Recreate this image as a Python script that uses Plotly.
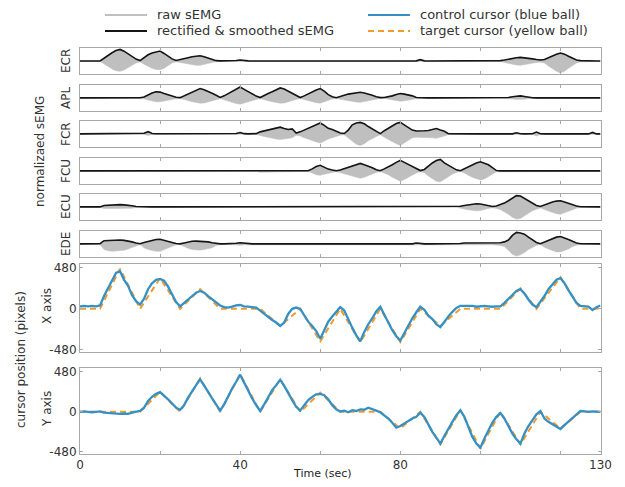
import plotly.graph_objects as go

# ---------------- data ----------------
time_s = list(range(131))  # 0..130 s, 1 s steps

channels = ["ECR", "APL", "FCR", "FCU", "ECU", "EDE"]

ECR_env = [0.02,0.02,0.02,0.02,0.02,0.03,0.25,0.5,0.72,0.9,
           1.0,0.85,0.65,0.42,0.18,0.06,0.3,0.55,0.7,0.8,
           0.86,0.66,0.42,0.2,0.06,0.12,0.22,0.3,0.38,0.44,
           0.46,0.38,0.26,0.13,0.05,0.03,0.03,0.03,0.04,0.06,
           0.1,0.05,0.03,0.02,0.02,0.02,0.02,0.02,0.02,0.02,
           0.02,0.02,0.02,0.02,0.02,0.02,0.02,0.02,0.02,0.02,
           0.02,0.02,0.02,0.02,0.02,0.02,0.02,0.02,0.02,0.02,
           0.02,0.02,0.02,0.02,0.02,0.02,0.02,0.02,0.02,0.02,
           0.02,0.02,0.02,0.02,0.03,0.13,0.03,0.02,0.02,0.02,
           0.02,0.02,0.02,0.02,0.03,0.08,0.03,0.02,0.02,0.02,
           0.02,0.02,0.02,0.02,0.03,0.05,0.1,0.18,0.26,0.3,
           0.33,0.3,0.26,0.2,0.14,0.1,0.14,0.3,0.45,0.6,
           0.7,0.6,0.42,0.25,0.1,0.05,0.03,0.02,0.02,0.02,
           0.02]
ECR_raw = [0.01,0.01,0.01,0.01,0.01,0.01,0.2,0.45,0.65,0.8,
           0.85,0.75,0.55,0.35,0.15,0.05,0.25,0.45,0.6,0.7,
           0.72,0.6,0.35,0.15,0.05,0.1,0.18,0.25,0.3,0.35,
           0.35,0.3,0.2,0.1,0.03,0.01,0.01,0.01,0.02,0.04,
           0.05,0.02,0.01,0.01,0.01,0.01,0.01,0.01,0.01,0.01,
           0.01,0.01,0.01,0.01,0.01,0.01,0.01,0.01,0.01,0.01,
           0.01,0.01,0.01,0.01,0.01,0.01,0.01,0.01,0.01,0.01,
           0.01,0.01,0.01,0.01,0.01,0.01,0.01,0.01,0.01,0.01,
           0.01,0.01,0.01,0.01,0.01,0.03,0.01,0.01,0.01,0.01,
           0.01,0.01,0.01,0.01,0.01,0.02,0.01,0.01,0.01,0.01,
           0.01,0.01,0.01,0.01,0.01,0.03,0.08,0.15,0.25,0.32,
           0.35,0.3,0.22,0.15,0.1,0.08,0.15,0.4,0.65,0.85,
           1.0,0.85,0.6,0.35,0.15,0.05,0.02,0.01,0.01,0.01,
           0.01]

APL_env = [0.03,0.03,0.03,0.03,0.03,0.03,0.03,0.03,0.03,0.03,
           0.03,0.03,0.03,0.03,0.03,0.04,0.1,0.3,0.45,0.55,
           0.52,0.4,0.3,0.18,0.08,0.05,0.2,0.36,0.52,0.68,
           0.82,0.72,0.6,0.42,0.25,0.07,0.2,0.4,0.62,0.8,
           0.95,0.75,0.55,0.35,0.18,0.06,0.2,0.4,0.55,0.7,
           0.87,0.78,0.6,0.4,0.2,0.06,0.2,0.38,0.55,0.7,
           0.82,0.6,0.3,0.12,0.04,0.12,0.25,0.35,0.42,0.48,
           0.5,0.45,0.38,0.25,0.12,0.05,0.06,0.1,0.2,0.32,
           0.4,0.35,0.3,0.2,0.06,0.03,0.03,0.03,0.03,0.03,
           0.03,0.03,0.03,0.03,0.03,0.03,0.03,0.03,0.03,0.03,
           0.03,0.03,0.03,0.03,0.03,0.03,0.03,0.06,0.12,0.18,
           0.2,0.15,0.08,0.04,0.03,0.03,0.03,0.03,0.03,0.03,
           0.03,0.03,0.03,0.03,0.03,0.03,0.03,0.03,0.03,0.03,
           0.03]
APL_raw = [0.01,0.01,0.01,0.01,0.01,0.01,0.01,0.01,0.01,0.01,
           0.01,0.01,0.01,0.01,0.01,0.01,0.05,0.15,0.25,0.3,
           0.3,0.25,0.18,0.1,0.04,0.02,0.1,0.2,0.3,0.38,
           0.42,0.4,0.32,0.22,0.12,0.03,0.12,0.25,0.35,0.45,
           0.5,0.45,0.32,0.2,0.1,0.03,0.1,0.22,0.3,0.38,
           0.42,0.4,0.32,0.2,0.1,0.03,0.1,0.2,0.3,0.38,
           0.42,0.32,0.18,0.06,0.02,0.08,0.15,0.22,0.28,0.32,
           0.35,0.3,0.22,0.14,0.06,0.02,0.02,0.05,0.12,0.2,
           0.25,0.22,0.18,0.1,0.03,0.01,0.01,0.01,0.01,0.01,
           0.01,0.01,0.01,0.01,0.01,0.01,0.01,0.01,0.01,0.01,
           0.01,0.01,0.01,0.01,0.01,0.01,0.01,0.03,0.06,0.1,
           0.12,0.08,0.03,0.01,0.01,0.01,0.01,0.01,0.01,0.01,
           0.01,0.01,0.01,0.01,0.01,0.01,0.01,0.01,0.01,0.01,
           0.01]

FCR_env = [0.03,0.03,0.03,0.03,0.03,0.03,0.03,0.03,0.03,0.03,
           0.03,0.03,0.03,0.03,0.03,0.03,0.08,0.22,0.06,0.04,
           0.04,0.04,0.04,0.03,0.03,0.03,0.03,0.03,0.03,0.03,
           0.03,0.03,0.03,0.03,0.03,0.03,0.03,0.03,0.03,0.06,
           0.15,0.05,0.03,0.03,0.05,0.2,0.28,0.35,0.42,0.5,
           0.6,0.48,0.4,0.45,0.1,0.2,0.35,0.45,0.6,0.75,
           0.95,0.75,0.5,0.4,0.28,0.1,0.06,0.35,0.8,0.95,
           1.0,0.88,0.65,0.45,0.25,0.05,0.3,0.5,0.7,0.9,
           1.0,0.8,0.55,0.35,0.28,0.27,0.3,0.32,0.4,0.48,
           0.35,0.25,0.04,0.03,0.03,0.03,0.03,0.03,0.03,0.03,
           0.03,0.03,0.03,0.03,0.03,0.03,0.03,0.03,0.03,0.12,
           0.04,0.03,0.03,0.04,0.18,0.04,0.03,0.03,0.03,0.03,
           0.03,0.03,0.03,0.03,0.03,0.03,0.03,0.03,0.15,0.03,
           0.03]
FCR_raw = [0.01,0.01,0.01,0.01,0.01,0.01,0.01,0.01,0.01,0.01,
           0.01,0.01,0.01,0.01,0.01,0.01,0.02,0.1,0.02,0.01,
           0.01,0.01,0.01,0.01,0.01,0.01,0.01,0.01,0.01,0.01,
           0.01,0.01,0.01,0.01,0.01,0.01,0.01,0.01,0.01,0.02,
           0.05,0.02,0.01,0.01,0.02,0.1,0.2,0.3,0.35,0.4,
           0.45,0.4,0.35,0.3,0.08,0.15,0.3,0.4,0.55,0.65,
           0.75,0.6,0.4,0.3,0.2,0.08,0.05,0.3,0.6,0.85,
           0.95,0.8,0.55,0.35,0.2,0.04,0.25,0.45,0.65,0.8,
           0.95,0.75,0.5,0.3,0.25,0.22,0.25,0.28,0.3,0.35,
           0.28,0.15,0.02,0.01,0.01,0.01,0.01,0.01,0.01,0.01,
           0.01,0.01,0.01,0.01,0.01,0.01,0.01,0.01,0.01,0.03,
           0.01,0.01,0.01,0.02,0.15,0.02,0.01,0.01,0.01,0.01,
           0.01,0.01,0.01,0.01,0.01,0.01,0.01,0.01,0.04,0.01,
           0.01]

FCU_env = [0.03,0.03,0.03,0.03,0.03,0.03,0.03,0.03,0.03,0.03,
           0.03,0.03,0.03,0.03,0.03,0.03,0.03,0.03,0.03,0.03,
           0.03,0.03,0.03,0.03,0.03,0.03,0.03,0.03,0.03,0.03,
           0.03,0.03,0.03,0.03,0.03,0.03,0.03,0.03,0.03,0.03,
           0.03,0.03,0.03,0.03,0.03,0.05,0.05,0.05,0.05,0.05,
           0.05,0.05,0.05,0.05,0.04,0.04,0.04,0.04,0.2,0.4,
           0.5,0.35,0.18,0.1,0.04,0.1,0.22,0.35,0.45,0.58,
           0.66,0.55,0.45,0.3,0.12,0.04,0.2,0.35,0.55,0.75,
           0.92,0.75,0.58,0.4,0.2,0.06,0.15,0.45,0.7,0.9,
           1.0,0.7,0.5,0.3,0.12,0.04,0.2,0.4,0.55,0.7,
           0.8,0.7,0.55,0.3,0.06,0.03,0.03,0.03,0.03,0.03,
           0.03,0.03,0.06,0.03,0.03,0.03,0.03,0.03,0.03,0.03,
           0.03,0.03,0.03,0.03,0.03,0.03,0.03,0.03,0.03,0.03,
           0.03]
FCU_raw = [0.01,0.01,0.01,0.01,0.01,0.01,0.01,0.01,0.01,0.01,
           0.01,0.01,0.01,0.01,0.01,0.01,0.01,0.01,0.01,0.01,
           0.01,0.01,0.01,0.01,0.01,0.01,0.01,0.01,0.01,0.01,
           0.01,0.01,0.01,0.01,0.01,0.01,0.01,0.01,0.01,0.01,
           0.01,0.01,0.01,0.01,0.01,0.08,0.08,0.08,0.08,0.08,
           0.08,0.08,0.08,0.08,0.02,0.02,0.02,0.02,0.15,0.3,
           0.35,0.25,0.15,0.1,0.03,0.1,0.2,0.3,0.4,0.5,
           0.6,0.5,0.4,0.25,0.1,0.03,0.15,0.3,0.5,0.7,
           0.85,0.7,0.5,0.35,0.15,0.05,0.12,0.4,0.65,0.85,
           0.9,0.65,0.45,0.25,0.1,0.03,0.15,0.35,0.5,0.65,
           0.75,0.65,0.45,0.25,0.05,0.01,0.01,0.01,0.01,0.01,
           0.01,0.01,0.02,0.01,0.01,0.01,0.01,0.01,0.01,0.01,
           0.01,0.01,0.01,0.01,0.01,0.01,0.01,0.01,0.01,0.01,
           0.01]

ECU_env = [0.03,0.03,0.03,0.03,0.03,0.03,0.15,0.18,0.2,0.22,
           0.22,0.2,0.18,0.12,0.06,0.04,0.03,0.03,0.03,0.03,
           0.03,0.03,0.03,0.03,0.03,0.03,0.03,0.03,0.03,0.03,
           0.03,0.03,0.03,0.03,0.03,0.03,0.03,0.03,0.03,0.03,
           0.03,0.03,0.03,0.03,0.03,0.03,0.03,0.03,0.03,0.03,
           0.03,0.03,0.03,0.03,0.03,0.03,0.03,0.03,0.03,0.03,
           0.03,0.03,0.03,0.03,0.03,0.03,0.03,0.03,0.03,0.03,
           0.03,0.03,0.03,0.03,0.03,0.03,0.03,0.03,0.03,0.03,
           0.03,0.03,0.03,0.03,0.03,0.03,0.03,0.03,0.03,0.03,
           0.03,0.03,0.03,0.03,0.03,0.08,0.15,0.22,0.28,0.3,
           0.28,0.2,0.1,0.06,0.1,0.2,0.35,0.55,0.8,0.98,
           0.95,0.75,0.55,0.35,0.15,0.06,0.2,0.32,0.45,0.52,
           0.55,0.45,0.32,0.2,0.1,0.04,0.03,0.03,0.03,0.03,
           0.03]
ECU_raw = [0.01,0.01,0.01,0.01,0.01,0.01,0.1,0.1,0.1,0.1,
           0.1,0.1,0.1,0.08,0.03,0.01,0.01,0.01,0.01,0.01,
           0.01,0.01,0.01,0.01,0.01,0.01,0.01,0.01,0.01,0.01,
           0.01,0.01,0.01,0.01,0.01,0.01,0.01,0.01,0.01,0.01,
           0.01,0.01,0.01,0.01,0.01,0.01,0.01,0.01,0.01,0.01,
           0.01,0.01,0.01,0.01,0.01,0.01,0.01,0.01,0.01,0.01,
           0.01,0.01,0.01,0.01,0.01,0.01,0.01,0.01,0.01,0.01,
           0.01,0.01,0.01,0.01,0.01,0.01,0.01,0.01,0.01,0.01,
           0.01,0.01,0.01,0.01,0.01,0.01,0.01,0.01,0.01,0.01,
           0.01,0.01,0.01,0.01,0.01,0.08,0.15,0.22,0.28,0.3,
           0.28,0.2,0.1,0.05,0.1,0.2,0.4,0.6,0.85,1.0,
           0.95,0.75,0.5,0.3,0.15,0.05,0.2,0.35,0.45,0.55,
           0.6,0.5,0.35,0.2,0.08,0.02,0.01,0.01,0.01,0.01,
           0.01]

EDE_env = [0.03,0.03,0.03,0.03,0.03,0.05,0.3,0.33,0.36,0.38,
           0.36,0.33,0.28,0.2,0.1,0.04,0.15,0.25,0.33,0.4,
           0.42,0.35,0.25,0.15,0.06,0.03,0.1,0.2,0.25,0.26,
           0.25,0.23,0.2,0.12,0.05,0.03,0.03,0.03,0.03,0.08,
           0.12,0.08,0.04,0.03,0.03,0.03,0.03,0.03,0.03,0.03,
           0.03,0.03,0.03,0.03,0.03,0.03,0.03,0.03,0.03,0.03,
           0.03,0.03,0.03,0.03,0.03,0.03,0.03,0.03,0.03,0.03,
           0.03,0.03,0.03,0.03,0.03,0.03,0.03,0.03,0.03,0.03,
           0.03,0.03,0.03,0.03,0.1,0.04,0.03,0.03,0.03,0.03,
           0.03,0.03,0.03,0.03,0.03,0.06,0.1,0.1,0.1,0.1,
           0.1,0.1,0.1,0.1,0.1,0.12,0.2,0.35,0.75,1.0,
           0.95,0.85,0.6,0.35,0.15,0.05,0.2,0.35,0.5,0.6,
           0.65,0.55,0.4,0.25,0.1,0.04,0.03,0.03,0.03,0.03,
           0.03]
EDE_raw = [0.01,0.01,0.01,0.01,0.01,0.02,0.45,0.55,0.6,0.6,
           0.55,0.5,0.4,0.3,0.15,0.03,0.3,0.45,0.55,0.6,
           0.6,0.5,0.35,0.2,0.05,0.03,0.2,0.35,0.45,0.5,
           0.5,0.45,0.4,0.3,0.1,0.02,0.01,0.01,0.01,0.05,
           0.08,0.05,0.01,0.01,0.01,0.01,0.01,0.01,0.01,0.01,
           0.01,0.01,0.01,0.01,0.01,0.01,0.01,0.01,0.01,0.01,
           0.01,0.01,0.01,0.01,0.01,0.01,0.01,0.01,0.01,0.01,
           0.01,0.01,0.01,0.01,0.01,0.01,0.01,0.01,0.01,0.01,
           0.01,0.01,0.01,0.01,0.03,0.01,0.01,0.01,0.01,0.01,
           0.01,0.01,0.01,0.01,0.01,0.02,0.05,0.05,0.05,0.05,
           0.05,0.05,0.05,0.05,0.05,0.1,0.2,0.5,0.85,1.0,
           0.9,0.7,0.45,0.25,0.1,0.03,0.25,0.4,0.55,0.65,
           0.65,0.55,0.4,0.2,0.08,0.02,0.01,0.01,0.01,0.01,
           0.01]

emg_env = [ECR_env, APL_env, FCR_env, FCU_env, ECU_env, EDE_env]
emg_raw = [ECR_raw, APL_raw, FCR_raw, FCU_raw, ECU_raw, EDE_raw]

# cursor X (pixels), 1 s steps
ctrl_x = [30,35,30,35,30,40,150,240,330,420,
          440,340,270,160,90,50,120,230,300,340,
          350,330,260,170,80,30,70,120,160,190,
          210,190,150,110,70,40,20,15,25,40,
          45,30,25,20,15,-20,-60,-100,-130,-160,
          -200,-160,-60,0,15,0,-70,-150,-200,-260,
          -350,-250,-150,-90,-40,20,-20,-130,-220,-310,
          -380,-270,-180,-110,-30,25,-60,-160,-250,-320,
          -370,-280,-190,-110,-40,25,-10,-80,-120,-180,
          -215,-150,-90,-35,10,35,35,30,35,25,
          30,35,30,25,30,30,70,120,170,210,
          230,180,110,50,20,80,150,230,290,340,
          360,300,220,140,70,35,30,25,-15,20,
          40]
# target X: vertices of the piecewise-linear target path
tgt_x_t = [0,5,10,15,20,25,30,35,45,50,55,60,65,70,75,80,85,90,95,105,110,114,120,125,130]
tgt_x_v = [0,0,470,0,360,0,230,0,0,-200,0,-380,0,-390,0,-390,0,-200,0,0,240,0,370,0,0]

# cursor Y (pixels), 1 s steps
ctrl_y = [0,5,0,-5,0,5,-10,-15,-20,-20,
          -25,-20,-25,-10,0,10,50,130,180,215,
          235,195,150,100,50,25,80,170,250,320,
          390,320,240,160,80,15,90,190,280,360,
          445,350,250,160,80,10,90,170,260,320,
          385,310,220,140,60,15,80,140,180,210,
          215,200,150,80,30,5,15,-5,20,10,
          30,25,50,35,15,-5,-40,-80,-130,-190,
          -170,-140,-100,-80,-60,-10,-60,-150,-240,-310,
          -380,-290,-200,-120,-40,20,-60,-180,-300,-380,
          -430,-320,-220,-130,-60,-15,-80,-180,-260,-330,
          -380,-260,-170,-100,-30,10,-80,-120,-150,-180,
          -205,-160,-120,-70,-30,10,5,0,5,0,
          0]
tgt_y_t = [0,15,20,25,30,35,40,45,50,55,60,65,75,80,85,90,95,100,105,110,115,120,125,130]
tgt_y_v = [0,0,240,0,400,0,450,0,390,0,230,0,0,-200,0,-390,20,-440,0,-390,0,-200,0,0]

time_ticks = [0, 20, 40, 60, 80, 100, 120, 130]
time_labels = ["0", "", "40", "", "80", "", "", "130"]
cursor_ticks = [-480, 0, 480]
cursor_labels = ["-480", "0", "480"]

# ---------------- figure ----------------
# The page body has an 8 px margin, so the figure is 16 px smaller than the
# window and all screen positions are converted with that offset.
OFF = 8
W, H = 625 - 2 * OFF, 487 - 2 * OFF
FONT = "DejaVu Sans, Noto Sans, sans-serif"
TXT = "#333333"
BOX = "#a8a8a8"
FS = 12

def px(x):
    return (x - OFF) / W

def py(y):
    return 1 - (y - OFF) / H

def ydom(top_px, bot_px):
    return [py(bot_px), py(top_px)]

emg_boxes = [(48, 74), (85, 111), (121, 147), (158, 184), (194, 220), (231, 257)]
x_box = (264, 352)
y_box = (368, 454)
x_dom = [px(80), px(600.5)]

fig = go.Figure()
layout = dict(width=W, height=H, margin=dict(l=0, r=0, t=0, b=0, autoexpand=False),
              paper_bgcolor="white", plot_bgcolor="white",
              font=dict(family=FONT, size=FS, color=TXT), showlegend=False)

def xax(idx, show_labels):
    return dict(domain=x_dom, range=[0, 130], anchor="y" + ("" if idx == 1 else str(idx)),
                tickvals=time_ticks, ticktext=time_labels, showticklabels=show_labels,
                ticks="inside", ticklen=3, tickcolor=BOX, showline=True, linecolor=BOX,
                linewidth=1, mirror="ticks", showgrid=False, zeroline=False,
                automargin=False, tickfont=dict(size=FS, color=TXT))

def label(text, x, y, angle=-90, size=FS, color=TXT, xanchor="center"):
    return dict(text=text, x=px(x), y=py(y), xref="paper", yref="paper",
                textangle=angle, showarrow=False, xanchor=xanchor, yanchor="middle",
                borderpad=0, font=dict(size=size, color=color))

annotations = []
for i, name in enumerate(channels):
    idx = i + 1
    xs = "x" + ("" if idx == 1 else str(idx))
    ys = "y" + ("" if idx == 1 else str(idx))
    env = emg_env[i]
    raw = emg_raw[i]
    fig.add_trace(go.Scatter(
        x=time_s + time_s[::-1],
        y=env + [-r for r in raw][::-1],
        fill="toself", fillcolor="#bfbfbf", mode="lines",
        line=dict(color="#bfbfbf", width=0.5), xaxis=xs, yaxis=ys,
        hoverinfo="skip", name="raw sEMG"))
    fig.add_trace(go.Scatter(
        x=time_s, y=env, mode="lines", line=dict(color="#151515", width=1.6),
        xaxis=xs, yaxis=ys, name="rectified & smoothed sEMG"))
    top, bot = emg_boxes[i]
    layout["xaxis" + ("" if idx == 1 else str(idx))] = xax(idx, False)
    layout["yaxis" + ("" if idx == 1 else str(idx))] = dict(
        domain=ydom(top, bot), range=[-1.08, 1.12], anchor=xs,
        showticklabels=False, ticks="", showline=True, linecolor=BOX, linewidth=1,
        mirror=True, showgrid=False, zeroline=False, automargin=False)
    annotations.append(label(name, 66, (top + bot) / 2))

# cursor panels
for k, (ctrl, tt, tv, lab, box) in enumerate([
        (ctrl_x, tgt_x_t, tgt_x_v, "X axis", x_box),
        (ctrl_y, tgt_y_t, tgt_y_v, "Y axis", y_box)]):
    idx = 7 + k
    xs = "x" + str(idx)
    ys = "y" + str(idx)
    fig.add_trace(go.Scatter(x=tt, y=tv, mode="lines",
                             line=dict(color="#F39A2E", width=2, dash="6px,4px"),
                             xaxis=xs, yaxis=ys, name="target cursor (yellow ball)"))
    fig.add_trace(go.Scatter(x=time_s, y=ctrl, mode="lines",
                             line=dict(color="#3590C3", width=2.3),
                             xaxis=xs, yaxis=ys, name="control cursor (blue ball)"))
    layout["xaxis" + str(idx)] = xax(idx, idx == 8)
    layout["yaxis" + str(idx)] = dict(
        domain=ydom(*box), range=[-505, 525], anchor=xs,
        tickvals=cursor_ticks, ticktext=cursor_labels, ticks="inside", ticklen=3,
        tickcolor=BOX, showline=True, linecolor=BOX, linewidth=1, mirror="ticks",
        showgrid=False, zeroline=False, automargin=False,
        tickfont=dict(size=FS, color=TXT))
    annotations.append(label(lab, 47, (box[0] + box[1]) / 2 - 2))

annotations += [
    label("normalizaed sEMG", 40, 152),
    label("cursor position (pixels)", 21, 360),
    label("Time (sec)", 322, 473, angle=0, size=11, color="#1e1e1e"),
]
shapes = []
legend_items = [
    ("raw sEMG", dict(color="#bfbfbf", width=2), 105, 15),
    ("rectified & smoothed sEMG", dict(color="#151515", width=2), 105, 31),
    ("control cursor (blue ball)", dict(color="#3590C3", width=2), 368, 15),
    ("target cursor (yellow ball)", dict(color="#F39A2E", width=2, dash="6px,4px"), 368, 31),
]
for text, ln, x0, yy in legend_items:
    shapes.append(dict(type="line", xref="paper", yref="paper",
                       x0=px(x0), x1=px(x0 + 42), y0=py(yy), y1=py(yy), line=ln))
    annotations.append(label(text, x0 + 51, yy, angle=0, size=13, xanchor="left"))
layout["annotations"] = annotations
layout["shapes"] = shapes
fig.update_layout(**layout)
fig.write_html("out.html")
